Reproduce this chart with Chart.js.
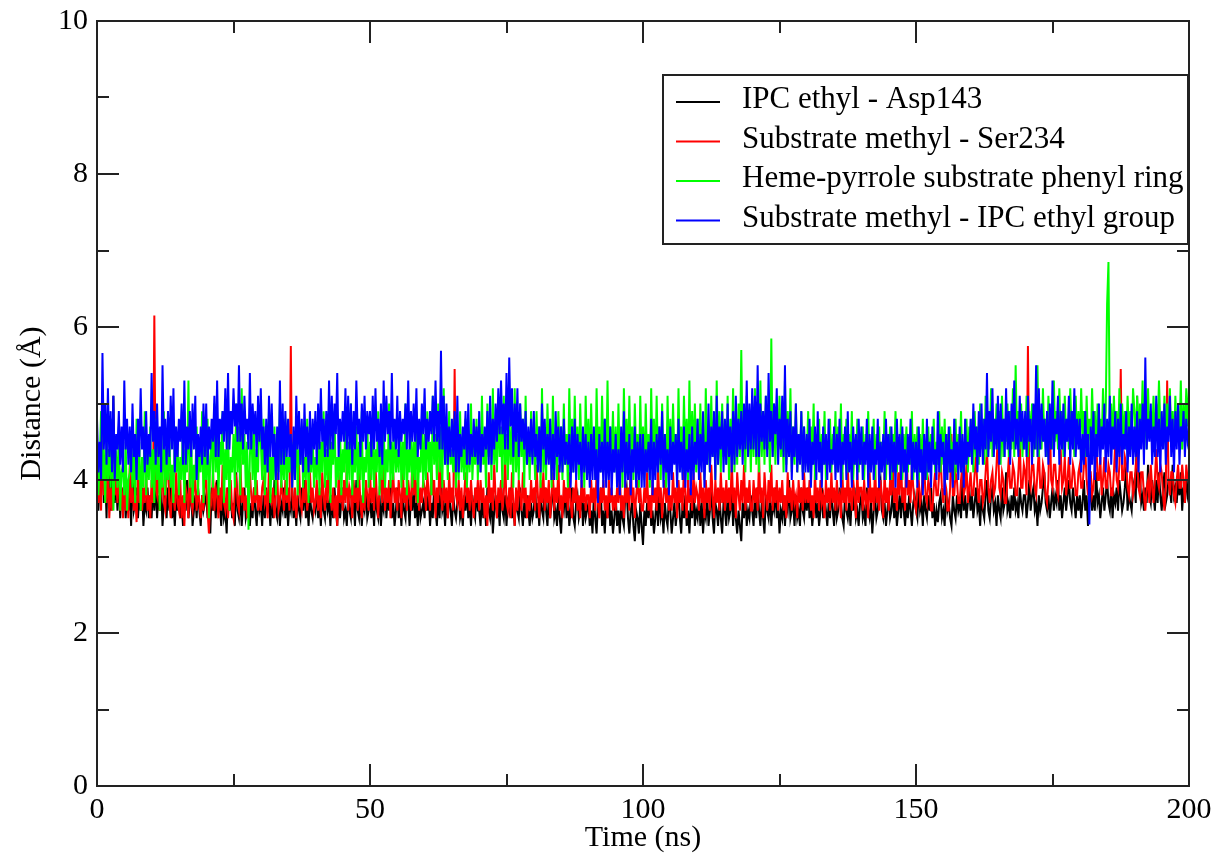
<!DOCTYPE html>
<html>
<head>
<meta charset="utf-8">
<script src="https://cdn.jsdelivr.net/npm/chart.js@4.4.1/dist/chart.umd.min.js"></script>
<style>
  body { margin: 0; background: #fff; }
  canvas { display: block; }
</style>
</head>
<body>
<canvas id="distChart" width="1215" height="854"></canvas>
<script>
// sampling of the trajectory (ns)
const timeStartNs = 0;
const timeStepNs = 0.25;

const seriesLabels = [
  'IPC ethyl - Asp143',
  'Substrate methyl - Ser234',
  'Heme-pyrrole substrate phenyl ring',
  'Substrate methyl - IPC ethyl group'
];
const seriesColors = ['#000000', '#ff0000', '#00ff00', '#0000ff'];

const xTicks = [0, 50, 100, 150, 200];
const yTicks = [0, 2, 4, 6, 8, 10];

// IPC ethyl - Asp143 (one row = 10 ns)
const ipcAsp = [
  4.3,3.6,4.0,3.8,4.8,3.7,4.1,3.5,4.4,3.9,3.6,4.2,5.1,3.7,4.0,3.6,4.2,3.5,3.9,3.7,4.0,3.5,3.8,3.6,3.9,3.4,4.1,3.6,3.7,3.9,3.5,3.8,3.6,3.9,3.4,3.7,3.6,3.9,3.5,3.8,
  3.5,3.9,3.6,4.0,3.5,3.8,3.6,3.9,3.4,3.7,3.8,3.5,3.9,3.6,4.1,3.5,3.7,3.4,3.8,3.6,3.9,3.5,3.7,3.4,3.8,3.6,4.0,3.5,3.7,3.9,3.4,3.6,3.8,3.5,3.9,3.6,3.4,3.8,3.6,3.7,
  3.8,3.5,3.7,3.3,3.9,3.6,3.8,3.5,4.0,3.6,3.7,3.4,3.8,3.5,3.6,3.3,3.9,3.6,3.8,3.5,3.7,3.4,4.1,3.6,3.5,3.8,3.4,3.7,3.9,3.5,3.6,3.8,3.4,3.7,3.5,3.9,3.6,3.4,3.8,3.6,
  3.7,3.4,3.8,3.5,3.9,3.6,3.7,3.4,3.8,3.5,4.0,3.6,3.5,3.8,3.4,3.7,3.6,3.9,3.5,3.8,3.4,3.7,3.6,3.9,3.5,3.7,3.4,3.8,3.6,3.5,3.9,3.6,4.0,3.5,3.7,3.4,3.8,3.6,3.5,3.7,
  3.6,3.9,3.5,3.7,3.4,3.8,3.6,3.5,3.9,3.6,3.7,3.4,3.8,3.5,3.9,3.6,3.4,3.8,3.5,3.7,3.9,3.5,3.6,3.4,3.8,3.6,3.5,3.9,3.7,3.4,4.0,3.6,3.5,3.8,3.4,3.7,3.6,3.9,3.5,3.6,
  3.8,3.5,3.7,3.4,3.9,3.6,3.5,3.8,3.4,3.7,3.6,3.9,3.5,3.8,3.6,4.0,3.5,3.7,3.4,3.6,3.9,3.5,3.7,3.4,3.8,3.6,3.5,3.9,3.7,3.4,3.8,3.6,3.9,3.5,3.7,3.4,3.8,3.5,3.6,3.7,
  3.5,3.9,3.6,3.8,3.4,3.7,3.5,3.9,3.6,3.4,3.8,3.5,4.1,3.6,3.7,3.4,3.8,3.5,3.9,3.6,3.4,3.8,3.6,3.5,3.7,3.9,3.5,3.6,3.4,3.8,3.6,3.9,3.5,3.7,3.4,3.8,3.6,3.5,3.9,3.6,
  3.6,3.4,3.8,3.5,3.7,3.4,3.9,3.6,3.5,3.8,3.3,3.6,3.8,3.5,3.7,3.4,4.0,3.6,3.5,3.8,3.4,3.7,3.6,3.9,3.5,3.7,3.4,3.8,3.6,3.5,3.9,3.6,3.4,3.7,3.5,3.8,3.6,3.4,3.7,3.5,
  3.6,3.9,3.5,3.7,3.4,3.8,3.6,3.5,3.9,3.6,3.4,3.8,3.5,3.7,4.0,3.5,3.6,3.4,3.8,3.5,3.3,3.7,3.6,3.9,3.5,3.8,3.4,3.6,3.9,3.5,3.4,3.7,3.8,3.5,3.6,3.9,3.4,3.7,3.5,3.6,
  3.7,3.4,3.6,3.3,3.8,3.5,3.3,3.7,3.6,3.9,3.4,3.6,3.3,3.7,3.5,3.8,3.4,3.6,3.3,3.5,3.8,3.4,3.6,3.3,3.7,3.5,3.4,3.8,3.9,3.5,3.3,3.6,3.7,3.4,3.2,3.6,3.5,3.3,3.7,3.4,
  3.15,3.6,3.4,3.7,3.5,3.8,3.4,3.6,3.3,3.5,3.8,3.4,3.9,3.5,3.6,3.3,3.7,3.5,3.4,3.8,3.6,3.3,3.5,3.7,3.4,3.6,3.9,3.5,3.3,3.7,3.5,3.8,3.4,3.6,3.3,3.7,3.5,3.9,3.4,3.6,
  3.5,3.8,3.4,3.7,3.3,3.6,3.5,3.8,3.4,3.6,3.9,3.5,3.3,3.7,3.6,3.4,3.8,3.5,3.3,3.7,3.6,3.4,3.8,3.5,3.6,3.9,3.4,3.7,3.5,3.3,3.6,3.4,3.2,3.7,3.5,3.8,3.4,3.6,3.5,3.8,
  3.6,3.4,3.8,3.5,3.9,3.6,3.4,3.7,3.5,3.3,3.8,3.6,3.5,3.8,3.4,3.7,3.6,3.9,3.5,3.7,3.3,3.6,3.5,3.8,3.4,3.7,3.6,4.0,3.5,3.6,3.7,3.4,3.8,3.5,3.6,3.4,3.9,3.6,3.5,3.8,
  3.6,3.9,3.5,3.7,3.4,3.6,3.8,3.5,3.7,3.4,3.6,3.9,3.5,3.8,3.6,3.4,3.7,3.5,3.9,3.6,3.4,3.8,3.5,3.6,3.9,3.7,3.5,3.4,3.8,3.6,3.5,3.7,3.4,3.8,3.6,3.9,3.5,3.6,3.4,3.7,
  3.8,3.5,3.6,3.4,3.9,3.6,3.5,3.7,3.3,3.6,3.8,3.5,3.6,3.9,4.0,3.6,3.5,3.7,3.4,3.6,3.8,3.5,3.6,3.9,3.5,3.7,3.4,3.6,3.8,3.5,3.9,3.6,3.4,3.7,3.5,3.8,3.6,3.4,3.7,3.8,
  3.6,3.5,3.9,3.6,3.7,3.4,3.8,3.6,3.5,3.8,3.6,3.9,3.5,3.7,3.4,3.6,3.45,3.7,3.8,3.5,3.6,3.4,3.9,3.6,3.7,3.5,3.4,3.8,3.6,3.5,3.8,3.6,3.7,3.5,4.0,3.6,3.8,3.5,3.7,3.9,
  3.6,3.8,3.5,3.7,3.9,3.6,3.7,3.4,3.8,3.6,3.5,3.8,4.0,3.6,3.5,3.8,3.9,3.6,3.7,3.4,3.8,3.6,3.5,3.9,3.6,3.7,4.1,3.6,3.7,3.5,3.8,3.6,3.9,3.6,3.7,3.5,3.9,3.7,3.6,3.8,
  3.8,3.5,3.7,4.0,3.6,3.8,3.9,3.6,3.7,3.4,3.8,3.6,3.7,3.9,4.1,3.7,3.6,3.8,3.5,3.7,3.9,3.6,3.8,3.7,4.0,3.6,3.8,3.5,3.7,3.9,3.6,3.8,4.0,3.7,3.6,3.9,3.7,3.5,3.8,3.6,
  3.8,3.5,3.7,4.0,3.6,3.8,3.4,3.7,3.9,3.6,3.8,3.6,4.1,3.7,3.8,3.5,3.7,3.9,3.6,3.8,4.0,3.7,3.6,3.9,3.5,3.8,3.7,3.9,3.6,4.0,3.8,3.6,3.7,3.9,4.2,3.6,3.8,3.7,3.6,3.9,
  4.0,3.7,5.1,3.9,4.1,3.7,3.8,3.6,3.9,3.7,4.2,3.8,3.7,4.0,3.8,3.6,4.0,3.7,4.1,3.8,3.6,3.9,4.1,3.7,3.8,4.0,3.9,3.7,4.2,3.8,3.9,3.7,4.0,3.8,4.1,3.6,3.9,3.7,4.1,3.8,
  3.9
];

// Substrate methyl - Ser234
const methylSer = [
  4.4,3.7,4.0,3.6,4.6,3.8,4.1,3.7,4.2,3.5,3.9,3.6,4.1,3.8,4.0,3.7,4.3,3.6,3.9,3.5,4.0,3.6,3.8,3.5,4.2,3.7,3.9,3.6,3.8,3.45,4.1,3.7,4.0,3.6,3.9,3.7,4.1,3.6,3.8,3.5,
  4.0,3.7,6.15,3.9,3.8,4.2,3.6,3.9,4.0,3.7,3.6,4.1,4.3,3.7,3.5,3.9,3.8,3.6,4.1,3.7,3.6,4.0,3.5,3.8,3.4,3.9,3.8,3.5,4.2,3.7,3.6,3.9,4.0,3.6,3.9,3.7,3.5,3.8,3.6,4.0,
  4.0,3.6,3.3,3.8,3.7,4.1,3.6,3.9,3.8,3.5,3.9,3.6,4.2,3.7,3.6,3.9,3.5,3.8,4.0,3.6,3.5,3.9,4.0,3.7,3.6,4.3,3.7,3.9,3.6,3.8,3.5,3.7,4.1,3.8,3.6,3.9,3.7,4.0,3.6,3.8,
  3.6,3.9,4.0,3.7,3.8,3.5,4.2,3.8,3.7,3.9,3.5,3.8,4.1,3.6,3.7,4.0,3.8,3.6,4.0,3.7,3.9,3.6,5.75,3.8,3.6,3.9,3.5,3.8,4.2,3.7,3.6,3.9,3.7,4.0,3.6,3.8,4.1,3.7,3.9,3.6,
  3.7,4.0,3.6,3.9,3.5,4.1,3.8,3.6,4.0,3.7,4.3,3.8,3.6,3.9,3.5,3.8,3.4,4.1,3.7,3.9,3.6,4.0,3.7,4.2,3.6,3.9,3.8,3.5,4.0,3.7,3.9,3.6,4.1,3.7,3.5,3.9,3.6,4.0,3.8,3.6,
  4.1,3.7,3.9,3.6,4.2,3.8,3.5,3.9,4.0,3.7,4.3,3.6,3.9,3.7,4.0,3.5,3.8,4.1,3.7,3.9,3.6,4.0,3.8,3.5,4.2,3.7,3.9,3.6,4.0,3.8,3.6,4.35,3.8,4.0,3.7,4.1,3.6,3.9,3.7,4.0,
  3.9,3.6,4.1,3.8,3.6,4.2,3.8,4.0,3.5,3.9,3.7,4.3,3.8,3.6,4.0,3.7,3.9,3.5,4.1,3.7,3.9,3.6,5.45,3.8,3.7,4.0,3.6,3.9,3.5,3.8,4.1,3.7,3.9,3.6,4.0,3.7,3.5,3.9,3.7,4.0,
  3.6,4.0,3.7,3.9,3.5,3.8,3.4,4.1,3.7,3.9,3.6,4.2,3.8,3.5,3.9,3.7,4.0,3.6,3.8,4.3,3.7,3.6,3.9,3.5,4.1,3.7,3.4,3.9,3.6,4.0,3.8,3.6,4.1,3.7,3.9,3.5,3.8,3.6,4.0,3.7,
  3.9,3.6,4.2,3.8,3.5,4.0,3.7,4.1,3.6,3.9,3.7,4.0,3.5,3.8,4.1,3.6,3.9,3.7,4.2,3.6,3.8,3.5,4.0,3.7,3.9,3.6,4.1,3.7,3.5,3.9,3.7,4.0,3.6,3.8,3.5,4.0,3.7,3.9,3.6,3.8,
  3.8,3.5,4.0,3.7,3.9,3.6,4.1,3.7,3.5,3.9,3.7,4.0,3.6,3.8,3.5,4.0,3.7,3.9,3.6,3.8,3.6,3.9,3.7,4.1,3.6,3.8,3.5,4.0,3.7,3.9,3.6,4.2,3.7,3.9,3.5,3.8,4.0,3.7,3.9,3.6,
  3.6,3.9,3.7,4.1,3.6,3.8,3.5,4.0,3.7,3.9,3.6,4.2,3.7,3.9,3.5,3.8,4.0,3.7,3.9,3.6,3.8,3.6,4.1,3.7,3.9,3.5,4.0,3.7,3.9,3.6,4.2,3.8,3.5,4.0,3.7,3.9,3.6,4.1,3.7,3.9,
  3.8,3.6,4.1,3.7,3.9,3.5,4.0,3.7,3.9,3.6,4.2,3.8,3.5,4.0,3.7,3.9,3.6,4.1,3.7,3.9,3.6,4.0,3.7,3.9,3.6,4.3,3.7,3.9,3.5,4.1,3.8,3.6,4.0,3.7,4.2,3.6,3.9,3.7,4.0,3.6,
  3.6,4.0,3.7,3.9,3.6,4.3,3.7,3.9,3.5,4.1,3.8,3.6,4.0,3.7,4.2,3.6,3.9,3.7,4.0,3.6,3.9,3.7,4.0,3.6,3.8,3.5,4.1,3.7,3.9,3.6,4.0,3.7,3.8,3.5,4.0,3.7,3.9,3.6,4.1,3.7,
  3.9,3.7,4.0,3.6,3.8,3.5,4.1,3.7,3.9,3.6,4.0,3.7,3.8,3.5,4.0,3.7,3.9,3.6,4.1,3.7,3.9,3.6,4.0,3.7,3.8,3.5,4.1,3.7,3.9,3.6,4.2,3.7,3.9,3.6,4.0,3.8,3.5,4.1,3.7,3.9,
  3.9,3.6,4.0,3.7,3.8,3.5,4.1,3.7,3.9,3.6,4.2,3.7,3.9,3.6,4.0,3.8,3.5,4.1,3.7,3.9,3.6,4.0,3.8,4.2,3.7,3.9,3.6,4.1,3.8,4.3,3.7,3.9,3.6,4.6,3.8,4.0,3.7,4.2,3.9,3.7,
  3.6,3.9,4.0,3.7,3.8,4.1,4.2,3.8,3.7,4.0,3.9,3.6,3.6,3.9,4.1,3.8,3.8,4.1,4.3,3.9,3.7,4.0,3.9,3.6,3.6,3.9,4.6,3.8,3.8,4.1,4.0,3.7,3.7,4.0,4.2,3.8,3.9,4.2,3.7,3.9,
  4.1,3.8,3.8,4.1,4.3,3.9,3.7,4.0,4.0,3.7,3.8,4.1,4.4,3.9,3.7,4.0,4.1,3.8,3.9,4.2,4.6,3.9,3.8,4.1,4.0,3.7,3.7,4.0,4.3,3.9,3.9,4.2,4.1,3.8,3.8,4.1,4.5,3.9,3.9,4.2,
  4.1,3.8,5.75,4.0,3.9,4.2,4.2,3.9,3.8,4.1,4.4,3.9,3.9,4.2,4.1,3.8,3.7,4.0,4.9,4.0,3.9,4.2,4.2,3.9,3.8,4.1,4.4,3.9,4.0,4.3,3.8,4.0,4.3,3.9,3.9,4.2,4.1,3.8,3.8,4.1,
  4.2,3.9,3.9,4.2,4.4,4.0,3.8,4.1,4.1,3.8,3.9,4.2,4.6,4.0,4.0,4.3,3.8,4.0,4.3,3.9,3.9,4.2,4.1,3.8,3.8,4.1,4.5,4.0,3.9,4.2,5.45,4.0,4.0,4.3,4.2,3.9,3.8,4.1,4.1,3.8,
  3.9,4.2,4.3,3.9,3.8,4.1,4.1,3.8,3.6,3.9,4.0,3.7,4.2,3.9,3.7,4.0,4.4,4.0,3.9,4.2,4.1,3.8,3.6,3.9,5.3,4.0,3.8,4.1,4.1,3.8,3.7,4.0,4.2,3.9,3.9,4.2,4.0,3.7,4.2,4.0,
  4.0
];

// Heme-pyrrole substrate phenyl ring
const hemePhenyl = [
  4.5,3.8,4.2,4.9,4.0,4.4,3.7,4.6,4.0,4.4,3.9,4.8,3.6,4.2,4.3,3.9,4.7,3.6,4.1,4.2,3.8,4.5,3.6,4.0,4.1,4.6,3.9,4.4,3.7,4.8,4.0,4.5,3.6,4.3,3.9,4.9,3.8,4.4,4.0,4.7,
  3.9,4.4,3.7,4.8,4.0,4.5,3.6,4.3,3.9,4.9,3.8,4.4,4.0,4.6,3.9,4.2,3.7,4.7,4.1,4.5,3.8,4.3,4.0,4.8,3.7,4.4,4.1,5.3,3.9,4.6,3.7,4.2,4.0,4.7,3.8,4.5,4.1,4.9,3.7,4.4,
  4.0,4.8,3.5,4.3,4.6,3.9,5.0,4.1,4.7,3.8,4.5,4.2,4.9,3.7,4.4,4.0,4.8,3.6,4.3,4.1,4.6,3.9,5.0,4.1,4.7,3.8,5.2,4.2,4.6,3.9,4.5,3.35,4.3,4.8,4.0,4.6,3.8,4.4,4.1,4.9,
  4.5,4.0,4.8,3.8,4.4,4.1,4.9,3.7,4.3,4.0,4.7,3.8,4.5,4.1,5.0,3.9,4.4,4.0,4.8,3.8,4.3,4.1,4.6,3.9,4.5,4.0,4.9,3.8,4.4,4.2,4.7,3.9,4.3,4.0,4.8,3.7,4.5,4.1,4.6,3.9,
  4.3,4.0,4.7,3.8,4.5,4.1,4.9,3.9,4.4,4.0,4.8,3.7,4.5,4.2,4.9,3.9,4.3,4.0,4.7,3.8,4.4,4.1,4.8,3.9,4.5,4.0,5.0,3.8,4.4,4.1,4.7,3.9,4.5,4.0,4.9,3.7,4.3,4.1,4.8,3.9,
  4.5,4.0,4.7,3.9,4.4,4.1,4.9,3.8,4.6,4.0,4.8,3.9,4.4,4.1,5.0,3.9,4.5,4.0,4.7,4.1,4.4,4.1,4.8,3.9,4.5,4.0,5.0,3.8,4.4,4.1,4.7,3.9,4.5,4.0,4.9,3.7,4.3,4.1,4.8,3.9,
  4.6,4.0,4.9,4.1,4.5,3.8,5.1,4.2,4.6,4.0,5.0,4.1,4.7,3.9,5.2,4.2,4.6,4.0,4.9,4.2,4.4,4.1,4.8,3.9,4.6,4.0,4.9,4.1,4.5,4.0,4.8,3.9,4.6,4.1,5.0,4.0,4.5,4.2,4.8,4.0,
  4.7,4.1,5.1,4.2,4.6,3.9,5.0,4.3,4.8,4.0,5.2,4.2,4.6,4.1,5.0,4.3,4.7,3.9,5.1,4.2,4.6,4.0,4.9,4.2,4.7,3.9,5.2,4.1,4.6,4.0,5.0,4.3,4.8,3.9,5.1,4.2,4.6,4.0,4.9,4.3,
  4.6,4.0,4.9,4.2,4.7,3.9,5.2,4.1,4.6,4.0,5.0,4.3,4.8,3.9,5.1,4.2,4.6,4.0,4.9,4.3,4.7,4.0,5.0,4.2,4.6,3.9,5.2,4.3,4.8,4.1,5.1,4.2,4.7,4.0,5.0,4.3,4.6,3.9,5.1,4.2,
  4.8,4.1,5.0,4.3,4.6,4.0,5.2,4.2,4.7,4.1,5.1,4.3,4.8,4.0,5.3,4.2,4.7,4.3,4.9,4.1,4.7,4.0,5.0,4.2,4.6,3.9,5.2,4.3,4.8,4.1,5.1,4.2,4.7,4.0,5.0,4.3,4.6,3.9,5.1,4.2,
  4.7,4.0,5.0,4.2,4.6,3.9,5.2,4.3,4.8,4.1,5.1,4.2,4.7,4.0,5.0,4.3,4.6,3.9,5.1,4.2,4.8,4.1,5.0,4.3,4.6,4.0,5.2,4.2,4.7,4.1,5.1,4.3,4.8,4.0,5.3,4.2,4.9,4.3,5.0,4.1,
  4.8,4.1,5.0,4.3,4.6,4.0,5.2,4.2,4.7,4.1,5.1,4.3,4.8,4.0,5.3,4.2,4.9,4.1,5.0,4.3,4.7,4.2,5.1,4.0,4.8,4.3,5.2,4.1,4.9,4.2,5.0,4.3,5.7,4.4,4.8,4.1,5.1,4.3,4.9,4.1,
  5.0,4.3,5.2,4.2,4.8,4.1,5.3,4.3,4.9,4.2,5.1,4.4,4.8,4.1,5.85,4.3,5.0,4.2,4.9,4.4,5.1,4.3,4.8,4.1,5.3,4.2,4.9,4.3,5.2,4.1,4.7,4.2,5.0,4.1,4.6,4.3,4.9,4.1,4.7,4.2,
  4.3,4.9,4.1,4.7,4.2,5.0,4.0,4.6,4.3,4.8,4.1,4.6,4.2,4.9,4.0,4.5,4.2,4.8,4.1,4.6,4.3,4.9,4.1,4.7,4.2,5.0,4.0,4.6,4.3,4.8,4.1,4.6,4.2,4.9,4.0,4.5,4.2,4.8,4.1,4.6,
  4.2,4.7,4.0,4.6,4.3,4.9,4.1,4.5,4.2,4.8,4.0,4.6,4.3,4.7,4.1,4.5,4.2,4.9,4.0,4.6,4.2,4.7,4.0,4.6,4.3,4.9,4.1,4.5,4.2,4.8,4.0,4.6,4.3,4.7,4.1,4.5,4.2,4.9,4.0,4.6,
  4.2,4.7,4.0,4.6,4.1,4.8,4.2,4.5,4.0,4.7,4.1,4.6,4.3,4.8,4.1,4.5,4.2,4.9,4.1,4.7,4.2,4.8,4.0,4.6,4.1,4.7,4.3,4.5,4.0,4.8,4.1,4.6,4.3,4.9,4.1,4.5,4.2,4.8,4.1,4.7,
  4.3,4.8,4.1,4.9,4.3,4.7,4.2,5.0,4.4,4.8,4.2,5.1,4.3,4.9,4.4,5.2,4.3,4.8,4.5,5.0,4.4,4.9,4.2,5.1,4.3,4.8,4.5,5.0,4.3,4.9,4.4,5.2,4.3,5.5,4.5,4.9,4.4,5.0,4.3,4.8,
  4.4,5.1,4.3,4.9,4.5,5.0,4.3,4.8,4.4,5.5,4.3,4.9,4.4,5.2,4.5,4.8,4.3,5.1,4.6,4.9,4.4,5.3,4.5,4.9,4.4,5.2,4.6,4.9,4.3,5.1,4.5,4.8,4.4,5.2,4.6,4.9,4.3,5.1,4.5,4.9,
  4.4,5.2,4.6,4.9,4.3,5.1,4.5,4.8,4.4,5.2,4.6,4.9,4.3,5.0,4.5,4.8,4.4,5.2,4.6,4.9,6.3,6.85,4.6,5.0,4.4,5.1,4.5,4.9,4.4,5.2,4.6,5.0,4.5,4.9,4.4,5.1,4.6,4.9,4.4,5.2,
  4.9,4.5,5.1,4.4,5.0,4.6,5.3,4.5,4.9,4.4,5.2,4.6,4.9,4.5,5.1,4.4,5.0,4.6,5.3,4.7,4.8,4.5,5.1,4.4,5.0,4.6,5.2,4.5,4.9,4.4,5.1,4.6,4.9,4.5,5.3,4.4,5.0,4.6,5.2,4.7,
  5.2
];

// Substrate methyl - IPC ethyl group
const methylIpc = [
  4.8,4.1,4.5,4.0,5.66,4.4,5.0,4.2,5.2,4.3,4.9,4.1,5.1,4.0,4.6,4.4,4.9,4.2,4.7,4.1,5.3,4.4,4.8,4.2,4.7,4.1,5.0,4.3,4.6,4.0,4.8,4.3,5.2,4.4,4.7,4.1,4.9,4.2,4.6,4.3,
  5.4,4.5,4.9,4.2,5.0,4.3,4.7,4.1,5.5,4.4,4.8,4.2,4.9,4.3,5.1,4.4,5.2,4.1,4.7,4.3,4.8,4.5,5.0,4.2,5.3,4.2,4.7,4.4,4.9,4.3,5.0,4.4,5.1,4.0,4.6,4.3,4.7,4.2,5.0,4.3,
  5.0,4.2,4.7,4.4,4.8,4.5,5.1,4.3,5.3,4.3,4.8,4.6,4.9,4.5,5.2,4.4,5.4,4.4,4.9,4.6,5.2,4.7,5.0,4.5,5.5,4.5,5.0,4.4,5.1,4.6,4.8,4.4,5.4,4.4,5.0,4.6,4.9,4.3,5.1,4.5,
  5.2,4.4,4.7,4.2,4.8,4.1,5.1,4.3,5.0,4.3,4.6,4.0,4.7,4.0,5.3,4.2,5.0,4.2,4.9,4.3,4.8,4.3,4.6,3.9,4.7,4.0,5.1,4.4,4.9,4.2,4.8,4.1,5.0,4.3,4.7,4.1,4.9,4.2,4.8,4.4,
  4.9,4.2,5.0,4.4,5.2,4.5,4.8,4.3,4.9,4.3,5.3,4.4,5.1,4.4,5.0,4.6,5.4,4.3,4.8,4.5,4.9,4.5,5.2,4.4,5.1,4.4,5.0,4.2,4.9,4.4,5.3,4.6,4.8,4.3,5.0,4.5,5.1,4.4,4.9,4.6,
  4.9,4.3,5.1,4.4,5.2,4.5,4.8,4.3,5.0,4.2,5.3,4.5,5.1,4.6,4.9,4.4,5.4,4.5,4.8,4.4,5.1,4.3,4.9,4.5,4.8,4.6,5.0,4.4,5.3,4.4,4.9,4.5,5.0,4.5,5.2,4.3,4.8,4.4,5.0,4.6,
  5.2,4.4,4.8,4.5,4.9,4.6,5.1,4.5,5.3,4.5,4.9,4.4,5.69,4.4,5.1,4.2,5.0,4.2,4.7,4.3,4.8,4.3,4.9,4.1,5.1,4.1,4.6,4.3,4.7,4.4,4.9,4.2,5.0,4.2,4.6,4.3,4.8,4.3,4.7,4.2,
  4.9,4.1,4.6,4.3,4.7,4.4,4.9,4.2,5.1,4.2,4.8,4.4,5.0,4.5,5.2,4.6,5.3,4.6,5.0,4.4,5.4,4.4,5.6,4.7,5.2,4.3,5.0,4.5,5.2,4.3,5.0,4.5,4.8,4.4,4.9,4.2,4.7,4.3,4.8,4.2,
  4.9,4.3,4.6,4.1,4.7,4.1,5.0,4.4,4.8,4.2,4.6,4.2,4.8,4.0,4.6,4.0,4.9,4.3,4.7,4.1,4.7,4.1,4.8,4.2,4.5,4.2,4.6,3.9,4.7,4.1,4.8,4.0,4.6,4.2,4.5,3.9,4.7,4.1,4.6,4.0,
  4.5,3.9,4.6,4.0,4.7,4.0,4.4,3.7,4.6,4.1,4.5,3.9,4.8,3.9,4.5,4.0,4.7,3.8,4.4,4.1,4.6,3.9,4.4,3.8,4.7,4.1,4.9,3.9,4.5,4.0,4.6,3.8,4.4,4.1,4.7,3.9,4.5,4.0,4.6,3.9,
  4.6,3.9,4.4,4.1,4.5,4.0,4.8,3.8,4.5,4.0,4.6,4.1,4.7,4.2,4.9,3.9,4.6,4.1,4.4,3.8,4.7,4.0,4.5,4.2,4.6,3.9,4.8,4.1,4.5,4.0,4.7,3.9,4.4,4.1,4.6,3.8,4.7,4.0,4.5,4.2,
  4.8,4.0,4.6,4.1,4.9,3.9,4.5,4.2,5.0,4.1,4.7,4.3,4.9,4.0,5.1,4.2,4.7,4.4,4.9,4.1,4.8,4.2,5.0,4.3,4.7,4.1,4.9,4.2,5.1,4.3,4.8,4.4,4.9,4.2,5.0,4.4,5.3,4.3,5.0,4.4,
  5.2,4.4,5.1,4.3,5.5,4.3,5.0,4.5,4.9,4.4,5.1,4.3,5.4,4.5,4.9,4.3,5.0,4.6,5.2,4.2,4.8,4.4,5.1,4.3,5.5,4.1,4.8,4.3,4.9,4.0,4.7,4.3,5.0,4.1,4.6,4.2,4.9,4.0,4.7,4.1,
  4.6,4.1,4.8,3.9,4.5,4.2,4.7,4.0,4.9,4.1,4.5,3.9,4.7,4.2,4.6,4.0,4.8,4.1,4.4,4.2,4.7,4.0,4.6,4.1,4.8,3.9,4.5,4.2,4.7,4.0,4.9,4.1,4.5,3.9,4.7,4.2,4.6,4.0,4.8,4.2,
  4.7,4.0,4.5,4.2,4.8,3.9,4.6,4.1,4.7,4.0,4.4,4.2,4.8,3.9,4.5,4.1,4.6,4.0,4.8,4.2,4.6,4.0,4.7,4.1,4.5,3.9,4.8,4.2,4.6,4.0,4.7,4.1,4.4,3.9,4.6,4.2,4.8,4.0,4.5,4.1,
  4.5,3.9,4.7,4.1,4.4,3.8,4.6,4.0,4.8,4.1,4.5,3.9,4.7,4.2,4.4,4.0,4.9,4.1,4.6,4.3,4.5,3.8,4.6,4.0,4.7,4.1,4.4,3.9,4.8,4.2,4.5,4.0,4.7,4.1,4.6,3.9,4.8,4.2,4.5,4.3,
  4.8,4.2,5.0,4.4,4.7,4.1,4.9,4.3,5.0,4.2,4.8,4.4,5.4,4.3,4.9,4.5,5.2,4.3,4.8,4.4,5.1,4.2,5.0,4.5,4.8,4.3,5.2,4.4,4.9,4.2,5.0,4.5,5.3,4.4,4.8,4.3,5.1,4.5,4.9,4.4,
  4.9,4.3,5.1,4.5,4.8,4.2,5.0,4.4,5.5,4.3,5.2,4.4,5.0,4.5,4.8,4.3,4.9,4.2,5.0,4.4,5.3,4.3,4.8,4.6,5.1,4.2,4.9,4.4,5.0,4.3,4.8,4.5,5.1,4.2,4.9,4.4,5.2,4.3,4.8,4.4,
  4.8,4.1,4.6,4.2,4.9,4.3,4.6,3.42,4.7,4.2,4.9,4.0,4.6,4.3,5.0,4.2,4.7,4.4,5.0,4.1,4.8,4.3,5.1,4.2,4.7,4.4,4.9,4.1,4.8,4.3,5.0,4.2,4.6,4.4,4.9,4.1,4.7,4.3,5.0,4.2,
  4.7,4.3,4.9,4.1,4.8,4.4,5.0,4.2,5.6,4.4,4.8,4.5,5.0,4.2,4.7,4.3,5.1,4.3,4.8,4.1,4.9,4.4,5.0,4.2,4.7,4.5,5.1,4.3,4.8,4.1,4.9,4.4,5.0,4.2,4.7,4.5,4.9,4.3,4.8,4.5,
  4.6
];

const seriesValues = [ipcAsp, methylSer, hemePhenyl, methylIpc];

const serif = "'Liberation Serif', 'Times New Roman', 'DejaVu Serif', serif";
const frameColor = '#222';

// sample times built from the start time and the step
const timesNs = ipcAsp.map((_, i) => timeStartNs + i * timeStepNs);

// xmgrace style frame with inward ticks on all four sides
const frameTicks = {
  id: 'frameTicks',
  afterDatasetsDraw(chart) {
    const { ctx, chartArea: a, scales } = chart;
    const xs = scales.x, ys = scales.y;
    ctx.save();
    ctx.strokeStyle = frameColor;
    ctx.lineWidth = 2;
    ctx.strokeRect(a.left, a.top, a.right - a.left, a.bottom - a.top);
    ctx.beginPath();
    for (let v = 25; v < 200; v += 25) {
      const px = Math.round(xs.getPixelForValue(v));
      const len = v % 50 === 0 ? 22 : 12;
      ctx.moveTo(px, a.bottom); ctx.lineTo(px, a.bottom - len);
      ctx.moveTo(px, a.top); ctx.lineTo(px, a.top + len);
    }
    for (let v = 1; v < 10; v++) {
      const py = Math.round(ys.getPixelForValue(v));
      const len = v % 2 === 0 ? 22 : 12;
      ctx.moveTo(a.left, py); ctx.lineTo(a.left + len, py);
      ctx.moveTo(a.right, py); ctx.lineTo(a.right - len, py);
    }
    ctx.stroke();
    ctx.restore();
  }
};

// boxed legend inside the plot
const boxLegend = {
  id: 'boxLegend',
  afterDraw(chart) {
    const ctx = chart.ctx;
    const box = { left: 663, top: 75, right: 1188, bottom: 244 };
    ctx.save();
    ctx.fillStyle = '#fff';
    ctx.fillRect(box.left, box.top, box.right - box.left, box.bottom - box.top);
    ctx.strokeStyle = frameColor;
    ctx.lineWidth = 2;
    ctx.strokeRect(box.left, box.top, box.right - box.left, box.bottom - box.top);
    ctx.font = '31px ' + serif;
    ctx.textBaseline = 'middle';
    ctx.textAlign = 'left';
    seriesLabels.forEach((label, i) => {
      const y = 100 + i * 39.5;
      ctx.strokeStyle = seriesColors[i];
      ctx.lineWidth = 2;
      ctx.beginPath();
      ctx.moveTo(676, y + 2);
      ctx.lineTo(720, y + 2);
      ctx.stroke();
      ctx.fillStyle = '#000';
      ctx.fillText(label, 742, y);
    });
    ctx.restore();
  }
};

new Chart(document.getElementById('distChart'), {
  type: 'line',
  data: {
    labels: timesNs,
    datasets: seriesValues.map((vals, i) => ({
      label: seriesLabels[i],
      data: vals,
      borderColor: seriesColors[i],
      borderWidth: 2,
      pointRadius: 0,
      tension: 0,
      fill: false,
      order: 3 - i
    }))
  },
  options: {
    responsive: false,
    animation: false,
    events: [],
    layout: { padding: { top: 21, right: 26, left: 0, bottom: 0 } },
    plugins: {
      legend: { display: false },
      tooltip: { enabled: false }
    },
    scales: {
      x: {
        type: 'linear',
        min: 0,
        max: 200,
        afterFit(scale) {
          scale.height = 68;
          scale.paddingLeft = 0;
          scale.paddingRight = 0;
        },
        afterBuildTicks(scale) { scale.ticks = xTicks.map(v => ({ value: v })); },
        ticks: {
          font: { family: serif, size: 30 },
          color: '#000',
          padding: 6,
          maxRotation: 0
        },
        grid: { display: false, drawTicks: false },
        border: { display: false },
        title: {
          display: true,
          text: 'Time (ns)',
          font: { family: serif, size: 30, lineHeight: 1 },
          color: '#000',
          padding: { top: 0, bottom: 1 }
        }
      },
      y: {
        min: 0,
        max: 10,
        afterFit(scale) {
          scale.width = 97;
          scale.paddingTop = 0;
          scale.paddingBottom = 0;
        },
        afterBuildTicks(scale) { scale.ticks = yTicks.map(v => ({ value: v })); },
        ticks: {
          font: { family: serif, size: 30 },
          color: '#000',
          padding: 9
        },
        grid: { display: false, drawTicks: false },
        border: { display: false },
        title: {
          display: true,
          text: 'Distance (Å)',
          font: { family: serif, size: 30, lineHeight: 1 },
          color: '#000',
          padding: { top: 17, bottom: 0 }
        }
      }
    }
  },
  plugins: [frameTicks, boxLegend]
});
</script>
</body>
</html>
